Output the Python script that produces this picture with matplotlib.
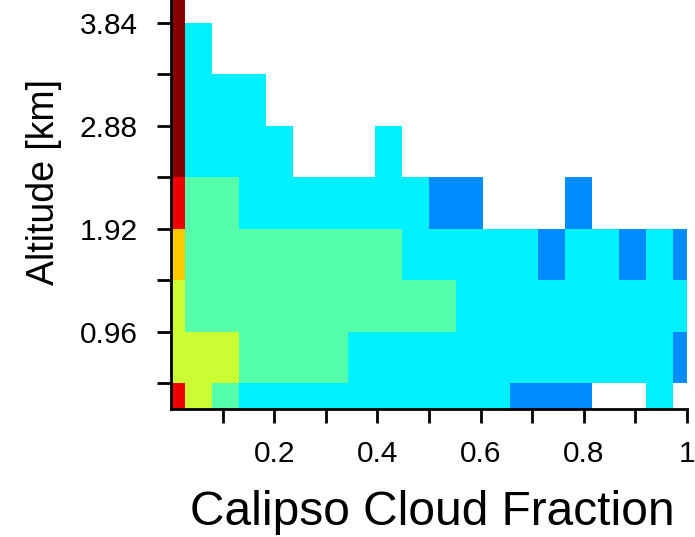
import numpy as np
import matplotlib
matplotlib.use('Agg')
import matplotlib.pyplot as plt
from matplotlib.colors import ListedColormap, BoundaryNorm

plt.rcParams['font.family'] = ['Liberation Sans', 'DejaVu Sans']

# bin centres (cloud fraction and altitude in km)
cf_centers = np.linspace(0, 1, 20)
alt_centers = 0.24 + 0.48 * np.arange(9)

# colour class of each cell, bottom row first (0 = empty)
freq_class = [
    [6, 4, 3, 2, 2, 2, 2, 2, 2, 2, 2, 2, 2, 1, 1, 1, 0, 0, 2, 0],
    [4, 4, 4, 3, 3, 3, 3, 2, 2, 2, 2, 2, 2, 2, 2, 2, 2, 2, 2, 1],
    [4, 3, 3, 3, 3, 3, 3, 3, 3, 3, 3, 2, 2, 2, 2, 2, 2, 2, 2, 2],
    [5, 3, 3, 3, 3, 3, 3, 3, 3, 2, 2, 2, 2, 2, 1, 2, 2, 1, 2, 1],
    [6, 3, 3, 2, 2, 2, 2, 2, 2, 2, 1, 1, 0, 0, 0, 1, 0, 0, 0, 0],
    [7, 2, 2, 2, 2, 0, 0, 0, 2, 0, 0, 0, 0, 0, 0, 0, 0, 0, 0, 0],
    [7, 2, 2, 2, 0, 0, 0, 0, 0, 0, 0, 0, 0, 0, 0, 0, 0, 0, 0, 0],
    [7, 2, 0, 0, 0, 0, 0, 0, 0, 0, 0, 0, 0, 0, 0, 0, 0, 0, 0, 0],
    [7, 0, 0, 0, 0, 0, 0, 0, 0, 0, 0, 0, 0, 0, 0, 0, 0, 0, 0, 0],
]

x_ticks = np.arange(1, 11) / 10
x_labels = ['', '0.2', '', '0.4', '', '0.6', '', '0.8', '', '1']
y_ticks = 0.48 * np.arange(1, 9)
y_labels = ['', '0.96', '', '1.92', '', '2.88', '', '3.84']

colors = ['#ffffff', '#008cff', '#00f0ff', '#55ffaa', '#ccff33',
          '#ffc800', '#ee0000', '#880000']
cmap = ListedColormap(colors)
norm = BoundaryNorm(np.arange(-0.5, 8.5, 1), cmap.N)

fig = plt.figure(figsize=(6.95, 5.37), dpi=100)
ax = fig.add_axes([171 / 695, 128 / 537, 516 / 695, 412 / 537])

ax.pcolormesh(cf_centers, alt_centers, np.array(freq_class),
              cmap=cmap, norm=norm, shading='nearest')
ax.set_xlim(0, 1)
ax.set_ylim(0.24, 4.08)

for s in ['top', 'right']:
    ax.spines[s].set_visible(False)
for s in ['left', 'bottom']:
    ax.spines[s].set_linewidth(2)

ax.set_xticks(x_ticks)
ax.set_xticklabels(x_labels)
ax.set_yticks(y_ticks)
ax.set_yticklabels(y_labels)
ax.tick_params(direction='out', length=10, width=2, labelsize=21.5)
ax.tick_params(axis='x', pad=12)
ax.tick_params(axis='y', pad=14)

fig.text(44 / 695, 1 - 182 / 537, 'Altitude [km]', rotation=90,
         ha='center', va='center', fontsize=27)
fig.text(432 / 695, 1 - 525 / 537, 'Calipso Cloud Fraction',
         ha='center', va='baseline', fontsize=34.5)

fig.savefig('out.png', dpi=100)
